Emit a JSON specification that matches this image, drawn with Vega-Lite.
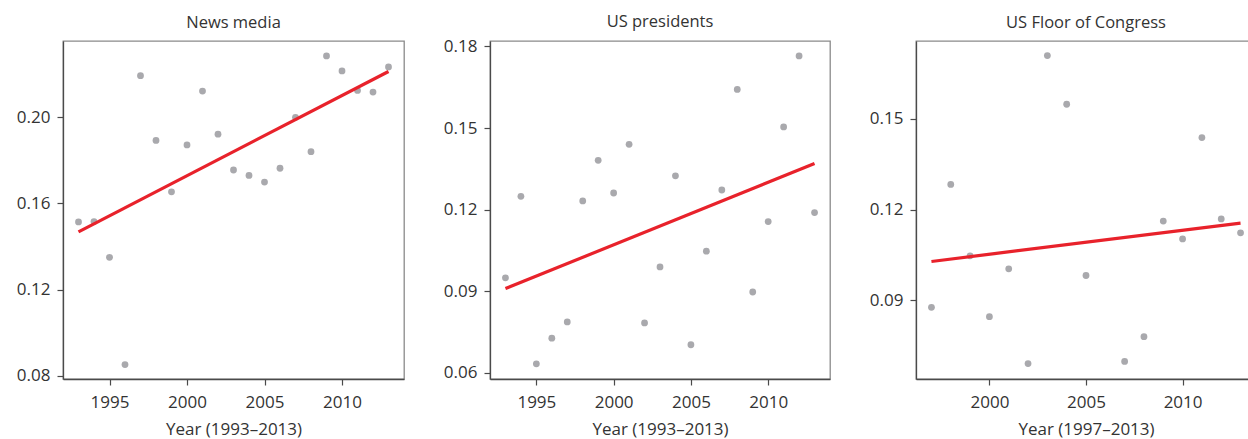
{
  "$schema": "https://vega.github.io/schema/vega-lite/v6.json",
  "padding": {"left": 15, "top": 13, "right": 0, "bottom": 0},
  "background": "white",
  "config": {
    "font": "Open Sans",
    "view": {"stroke": "#8a8a8a", "strokeWidth": 1.3},
    "axis": {
      "grid": false,
      "domainColor": "#4a4a4a",
      "domainWidth": 1.3,
      "tickColor": "#4a4a4a",
      "tickWidth": 1.2,
      "tickSize": 6,
      "labelPadding": 7,
      "labelFontSize": 17,
      "labelColor": "#333333",
      "labelFont": "Open Sans",
      "titleFontSize": 17,
      "titleFontWeight": "normal",
      "titleColor": "#333333",
      "titleFont": "Open Sans",
      "titlePadding": 9
    },
    "axisX": {"labelPadding": 9, "titlePadding": 11},
    "title": {"fontSize": 16.5, "fontWeight": "normal", "color": "#333333", "font": "Open Sans", "offset": 10}
  },
  "datasets": {
    "news": [
      {"year": 1993, "v": 0.1514}, {"year": 1994, "v": 0.1516}, {"year": 1995, "v": 0.1350},
      {"year": 1996, "v": 0.0853}, {"year": 1997, "v": 0.2192}, {"year": 1998, "v": 0.1892},
      {"year": 1999, "v": 0.1654}, {"year": 2000, "v": 0.1871}, {"year": 2001, "v": 0.2121},
      {"year": 2002, "v": 0.1921}, {"year": 2003, "v": 0.1755}, {"year": 2004, "v": 0.1730},
      {"year": 2005, "v": 0.1699}, {"year": 2006, "v": 0.1763}, {"year": 2007, "v": 0.1999},
      {"year": 2008, "v": 0.1840}, {"year": 2009, "v": 0.2284}, {"year": 2010, "v": 0.2214},
      {"year": 2011, "v": 0.2124}, {"year": 2012, "v": 0.2116}, {"year": 2013, "v": 0.2233}
    ],
    "presidents": [
      {"year": 1993, "v": 0.0949}, {"year": 1994, "v": 0.1249}, {"year": 1995, "v": 0.0633},
      {"year": 1996, "v": 0.0727}, {"year": 1997, "v": 0.0787}, {"year": 1998, "v": 0.1232},
      {"year": 1999, "v": 0.1381}, {"year": 2000, "v": 0.1261}, {"year": 2001, "v": 0.1440},
      {"year": 2002, "v": 0.0783}, {"year": 2003, "v": 0.0989}, {"year": 2004, "v": 0.1324},
      {"year": 2005, "v": 0.0703}, {"year": 2006, "v": 0.1047}, {"year": 2007, "v": 0.1272},
      {"year": 2008, "v": 0.1642}, {"year": 2009, "v": 0.0897}, {"year": 2010, "v": 0.1156},
      {"year": 2011, "v": 0.1504}, {"year": 2012, "v": 0.1765}, {"year": 2013, "v": 0.1189}
    ],
    "congress": [
      {"year": 1997, "v": 0.0877}, {"year": 1998, "v": 0.1283}, {"year": 1999, "v": 0.1047},
      {"year": 2000, "v": 0.0846}, {"year": 2001, "v": 0.1004}, {"year": 2002, "v": 0.0691},
      {"year": 2003, "v": 0.1709}, {"year": 2004, "v": 0.1548}, {"year": 2005, "v": 0.0982},
      {"year": 2007, "v": 0.0698}, {"year": 2008, "v": 0.0780}, {"year": 2009, "v": 0.1162},
      {"year": 2010, "v": 0.1103}, {"year": 2011, "v": 0.1438}, {"year": 2012, "v": 0.1169},
      {"year": 2013, "v": 0.1123}
    ]
  },
  "bounds": "flush",
  "spacing": 86,
  "hconcat": [
    {
      "title": {"text": "News media", "offset": 10},
      "width": 341,
      "height": 338,
      "data": {"name": "news"},
      "layer": [
        {
          "mark": {"type": "circle", "size": 46, "color": "#a9a9ad", "opacity": 1},
          "encoding": {
            "x": {"field": "year", "type": "quantitative", "scale": {"domain": [1992, 2014], "nice": false, "zero": false},
                  "axis": {"values": [1995, 2000, 2005, 2010], "format": "d", "title": "Year (1993–2013)"}},
            "y": {"field": "v", "type": "quantitative", "scale": {"domain": [0.0786, 0.2353], "nice": false, "zero": false},
                  "axis": {"values": [0.08, 0.12, 0.16, 0.20], "format": ".2f", "title": null}}
          }
        },
        {
          "transform": [{"regression": "v", "on": "year"}],
          "mark": {"type": "line", "color": "#e8222b", "strokeWidth": 3.2},
          "encoding": {
            "x": {"field": "year", "type": "quantitative"},
            "y": {"field": "v", "type": "quantitative"}
          }
        }
      ]
    },
    {
      "title": {"text": "US presidents", "offset": 7},
      "width": 340,
      "height": 338,
      "data": {"name": "presidents"},
      "layer": [
        {
          "mark": {"type": "circle", "size": 46, "color": "#a9a9ad", "opacity": 1},
          "encoding": {
            "x": {"field": "year", "type": "quantitative", "scale": {"domain": [1992, 2014], "nice": false, "zero": false},
                  "axis": {"values": [1995, 2000, 2005, 2010], "format": "d", "title": "Year (1993–2013)"}},
            "y": {"field": "v", "type": "quantitative", "scale": {"domain": [0.0577, 0.182], "nice": false, "zero": false},
                  "axis": {"values": [0.06, 0.09, 0.12, 0.15, 0.18], "format": ".2f", "title": null}}
          }
        },
        {
          "transform": [{"regression": "v", "on": "year"}],
          "mark": {"type": "line", "color": "#e8222b", "strokeWidth": 3.2},
          "encoding": {
            "x": {"field": "year", "type": "quantitative"},
            "y": {"field": "v", "type": "quantitative"}
          }
        }
      ]
    },
    {
      "title": {"text": "US Floor of Congress", "offset": 10},
      "width": 340,
      "height": 338,
      "data": {"name": "congress"},
      "layer": [
        {
          "mark": {"type": "circle", "size": 46, "color": "#a9a9ad", "opacity": 1},
          "encoding": {
            "x": {"field": "year", "type": "quantitative", "scale": {"domain": [1996.2, 2013.8], "nice": false, "zero": false},
                  "axis": {"values": [2000, 2005, 2010], "format": "d", "title": "Year (1997–2013)"}},
            "y": {"field": "v", "type": "quantitative", "scale": {"domain": [0.064, 0.1757], "nice": false, "zero": false},
                  "axis": {"values": [0.09, 0.12, 0.15], "format": ".2f", "title": null}}
          }
        },
        {
          "transform": [{"regression": "v", "on": "year"}],
          "mark": {"type": "line", "color": "#e8222b", "strokeWidth": 3.2},
          "encoding": {
            "x": {"field": "year", "type": "quantitative"},
            "y": {"field": "v", "type": "quantitative"}
          }
        }
      ]
    }
  ]
}
